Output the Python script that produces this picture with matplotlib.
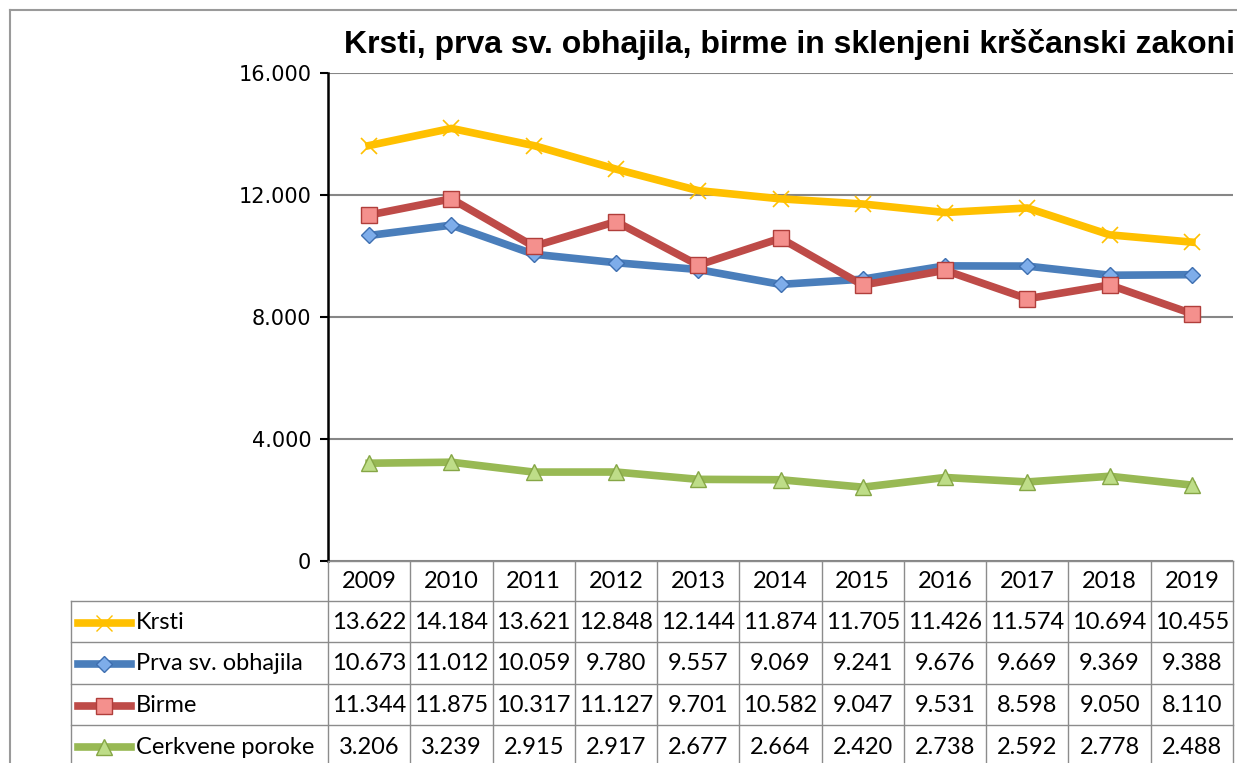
import matplotlib.pyplot as plt
from matplotlib.lines import Line2D

years = ['2009', '2010', '2011', '2012', '2013', '2014', '2015', '2016', '2017', '2018', '2019']
krsti = [13622, 14184, 13621, 12848, 12144, 11874, 11705, 11426, 11574, 10694, 10455]
obhajila = [10673, 11012, 10059, 9780, 9557, 9069, 9241, 9676, 9669, 9369, 9388]
birme = [11344, 11875, 10317, 11127, 9701, 10582, 9047, 9531, 8598, 9050, 8110]
poroke = [3206, 3239, 2915, 2917, 2677, 2664, 2420, 2738, 2592, 2778, 2488]
names = ['Krsti', 'Prva sv. obhajila', 'Birme', 'Cerkvene poroke']
title = 'Krsti, prva sv. obhajila, birme in sklenjeni krščanski zakoni'

# line, marker face, marker edge, marker
styles = [
    ('#FFC000', '#FFC000', '#FFC000', 'x', 11),
    ('#4A7EBB', '#7EADEA', '#3E6FB0', 'D', 8),
    ('#BE4B48', '#F4908D', '#B03E3B', 's', 11),
    ('#98B954', '#BEDD88', '#86A646', '^', 11),
]
series = [krsti, obhajila, birme, poroke]

W, H = 1237, 763
fig = plt.figure(figsize=(W / 100, H / 100), dpi=100)


def fx(px):
    return px / W


def fy(py):
    return 1 - py / H


# plot area
x0, x1, ytop, ybot = 328, 1233, 73, 561
ax = fig.add_axes([fx(x0), fy(ybot), fx(x1 - x0), (ybot - ytop) / H])
n = len(years)
for vals, (lc, mf, me, mk, ms) in zip(series, styles):
    ax.plot(range(n), vals, color=lc, lw=5.5, marker=mk, markersize=ms,
            markerfacecolor=mf, markeredgecolor=me,
            markeredgewidth=1.2 if mk == 'x' else 1.0, zorder=3,
            solid_joinstyle='round')
ax.set_xlim(-0.5, n - 0.5)
ax.set_ylim(0, 16000)
ax.set_yticks([0, 4000, 8000, 12000, 16000])
ax.set_yticklabels(['0', '4.000', '8.000', '12.000', '16.000'],
                   fontsize=15, family='DejaVu Sans')
ax.set_xticks([])
ax.grid(axis='y', color='#868686', lw=1.5)
for s in ['top', 'right', 'bottom']:
    ax.spines[s].set_visible(False)
ax.spines['left'].set_linewidth(1.8)
ax.tick_params(axis='y', length=6, width=1.5, pad=6)
ax.set_axisbelow(True)

# overlay in pixel coordinates for table, frame and title
ov = fig.add_axes([0, 0, 1, 1], zorder=5)
ov.set_xlim(0, W)
ov.set_ylim(H, 0)
ov.axis('off')
ov.patch.set_alpha(0)

ov.plot([10, W], [10, 10], color='#9A9A9A', lw=1.5)
ov.plot([10, 10], [10, H], color='#9A9A9A', lw=1.5)
ov.text(789, 45, title, ha='center', va='center', fontsize=23,
        fontweight='bold', family='Liberation Sans')

grid_c = '#8C8C8C'
colw = (x1 - x0) / n
rows = [561, 601, 642, 684, 725, 767]
tab_left = 71
# horizontal lines
ov.plot([x0, x1], [rows[0], rows[0]], color=grid_c, lw=1)
for r in rows[1:]:
    ov.plot([tab_left, x1], [r, r], color=grid_c, lw=1)
# vertical lines
ov.plot([tab_left, tab_left], [rows[1], H], color=grid_c, lw=1)
for i in range(n + 1):
    xv = x0 + i * colw
    ov.plot([xv, xv], [rows[0], H], color=grid_c, lw=1)

fs = 17
for i, y in enumerate(years):
    ov.text(x0 + (i + 0.5) * colw, (rows[0] + rows[1]) / 2 + 1, y,
            ha='center', va='center', fontsize=fs, family='Lato')
for r, (name, vals, (lc, mf, me, mk, ms)) in enumerate(zip(names, series, styles)):
    yc = (rows[r + 1] + rows[r + 2]) / 2 + 1
    ov.add_line(Line2D([78, 131], [yc, yc], color=lc, lw=5.5))
    ov.add_line(Line2D([104], [yc], marker=mk, markersize=ms, color=lc,
                       markerfacecolor=mf, markeredgecolor=me, lw=0))
    ov.text(136, yc, name, ha='left', va='center', fontsize=fs, family='Lato')
    for i, v in enumerate(vals):
        ov.text(x0 + (i + 0.5) * colw, yc, f'{v:,}'.replace(',', '.'),
                ha='center', va='center', fontsize=fs, family='Lato')

fig.savefig('out.png', dpi=100)
